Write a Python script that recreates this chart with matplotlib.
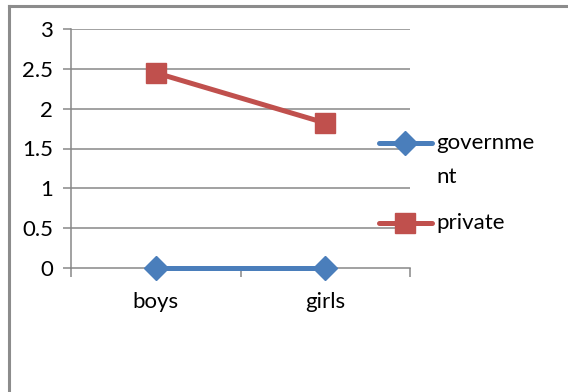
import matplotlib
matplotlib.use("Agg")
import matplotlib.pyplot as plt
from matplotlib.lines import Line2D

categories = ["boys", "girls"]
government = [0, 0]
private = [2.45, 1.82]
y_ticks = [0, 0.5, 1, 1.5, 2, 2.5, 3]
y_tick_labels = ["0", "0.5", "1", "1.5", "2", "2.5", "3"]

BLUE = "#4A7EBB"
RED = "#C0504D"
GRID = "#878787"
FS = 16

plt.rcParams["font.family"] = ["Lato", "DejaVu Sans"]

W, H = 568, 392
fig = plt.figure(figsize=(W / 100, H / 100), dpi=100)

# outer chart frame (left and top edges)
fig.add_artist(Line2D([8.5 / W, 8.5 / W], [0, 1 - 5.5 / H], color="#8c8c8c", lw=2.2,
                      transform=fig.transFigure))
fig.add_artist(Line2D([8.5 / W, 1], [1 - 5.5 / H, 1 - 5.5 / H], color="#8c8c8c", lw=2.2,
                      transform=fig.transFigure))

left, right, top, bottom = 71, 410, 29, 268
ax = fig.add_axes([left / W, 1 - bottom / H, (right - left) / W, (bottom - top) / H])
ax.set_xlim(0, len(categories))
ax.set_ylim(0, 3)

for s in ["top", "right"]:
    ax.spines[s].set_visible(False)
for s in ["left", "bottom"]:
    ax.spines[s].set_color(GRID)
    ax.spines[s].set_linewidth(1.1)

ax.set_yticks(y_ticks)
ax.set_yticklabels(y_tick_labels, fontsize=FS)
ax.tick_params(axis="y", length=8 * 0.72, width=1.1, color=GRID, pad=7)
for y in y_ticks[1:]:
    ax.axhline(y, color=GRID, lw=1.1, zorder=0)

# category boundaries as ticks, labels centered in each slot
ax.set_xticks(range(len(categories) + 1))
ax.set_xticklabels([])
ax.tick_params(axis="x", length=9 * 0.72, width=1.1, color=GRID)
xs = [i + 0.5 for i in range(len(categories))]
for x, lab in zip(xs, categories):
    ax.annotate(lab, (x, 0), xytext=(0, -34 * 0.72), textcoords="offset points",
                ha="center", va="center", fontsize=FS, annotation_clip=False)

ax.plot(xs, government, color=BLUE, lw=3.6, marker="D", ms=12, mec=BLUE,
        mfc=BLUE, clip_on=False, zorder=3, solid_capstyle="round")
ax.plot(xs, private, color=RED, lw=3.6, marker="s", ms=14, mec=RED,
        mfc=RED, clip_on=False, zorder=3, solid_capstyle="round")

# legend drawn manually so the long label wraps like the original
def legend_entry(y_px, color, marker, ms, lines):
    y = 1 - y_px / H
    fig.add_artist(Line2D([379 / W, 432 / W], [y, y], color=color, lw=3.6,
                          solid_capstyle="round", transform=fig.transFigure))
    fig.add_artist(Line2D([405 / W], [y], color=color, marker=marker, ms=ms,
                          mec=color, mfc=color, transform=fig.transFigure))
    for i, t in enumerate(lines):
        fig.text(436 / W, y - i * 34 / H, t, ha="left", va="center", fontsize=FS)

legend_entry(143, BLUE, "D", 12, ["governme", "nt"])
legend_entry(223, RED, "s", 14, ["private"])

fig.savefig("out.png", dpi=100, facecolor="white")
